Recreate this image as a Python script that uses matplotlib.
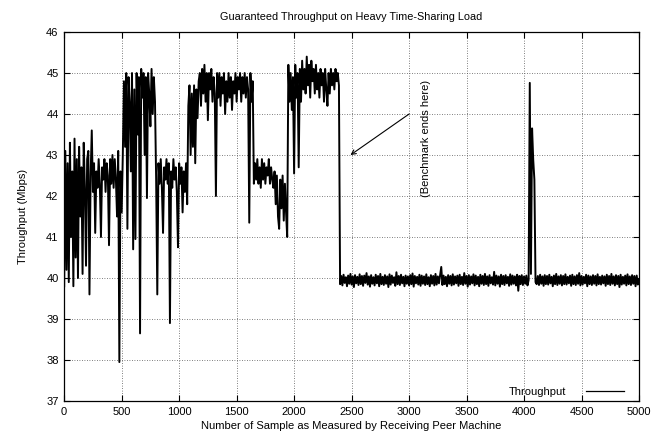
import numpy as np
import matplotlib
matplotlib.use("Agg")
import matplotlib.pyplot as plt

# throughput readings, one value every 10 samples
seg_start_burst = [39.8, 43.1, 40.2, 42.8, 39.9, 43.3, 41.0, 42.6, 39.8, 43.4,
                   40.5, 42.9, 40.0, 43.2, 41.5, 42.7, 40.1, 43.3, 42.2, 40.3,
                   42.9, 43.1, 39.6, 42.5, 43.6]
seg_low_1 = [42.1, 42.8, 41.1, 42.6, 42.2, 42.9, 42.3, 41.0, 42.7, 42.4,
             42.9, 42.1, 42.8, 42.5, 40.8, 42.9, 42.3, 43.0, 42.2, 42.9,
             42.4, 41.5, 43.1, 37.95, 42.6, 41.6]
seg_high_1 = [43.0, 44.8, 43.2, 45.0, 41.2, 44.9, 44.3, 42.6, 45.0, 40.7,
              44.6, 40.95, 45.0, 43.5, 44.9, 38.65, 45.1, 44.4, 45.0, 43.0,
              44.9, 41.95, 45.0, 44.5, 43.7, 45.1, 44.0, 44.9, 44.3]
seg_low_2 = [42.4, 39.6, 42.8, 42.3, 42.9, 42.2, 41.1, 42.7, 42.4, 42.9,
             42.3, 42.8, 38.9, 42.6, 42.2, 42.9, 42.4, 42.7, 42.1, 40.75,
             42.8, 42.3, 42.7, 41.6, 42.6, 42.1, 42.8, 41.8]
seg_high_2 = [44.2, 44.7, 43.0, 44.5, 43.2, 44.7, 42.8, 44.6, 43.9, 44.8,
              45.0, 44.2, 45.1, 44.5, 45.2, 44.3, 45.0, 43.85, 45.0, 44.6,
              45.1, 44.3, 44.9, 44.5, 42.0, 45.0, 44.4, 45.0, 44.2, 44.9,
              44.5, 45.0, 44.0, 44.8, 44.3, 45.0, 44.4, 44.9, 44.1, 44.8,
              44.5, 45.0, 44.3, 44.9, 44.6, 45.0, 44.3, 44.9, 44.5, 45.0,
              44.4, 44.9, 44.6, 41.35, 45.0, 44.3, 44.8]
seg_low_3 = [42.3, 42.8, 42.4, 42.9, 42.3, 42.7, 42.2, 42.9, 42.4, 42.8,
             42.3, 42.7, 42.5, 42.9, 42.3, 42.7, 42.4]
seg_low_4 = [42.2, 42.6, 41.8, 42.5, 41.5, 41.2, 42.4, 41.7, 42.5, 41.4,
             42.3, 41.6, 41.0]
seg_high_3 = [45.2, 44.3, 45.0, 44.1, 44.9, 42.55, 45.2, 44.4, 45.0, 42.7,
              45.1, 44.3, 45.3, 44.6, 45.1, 44.5, 45.4, 44.7, 45.2, 44.4,
              45.3, 44.8, 45.1, 44.5, 45.2, 44.6, 45.0, 44.4, 45.1, 44.7,
              45.0, 44.3, 45.1, 44.6, 44.2, 45.0, 44.5, 45.1, 44.7, 45.0,
              44.6, 45.1, 44.8, 45.0, 44.7]
seg_after = [
    39.85, 40.05, 39.82, 40.08, 39.88, 40.02, 39.80, 40.06, 39.86, 40.10, 39.84, 40.04, 39.78, 40.07, 39.87, 40.03, 39.83, 40.09, 39.85, 40.05,
    39.81, 40.06, 39.88, 40.12, 39.84, 40.04, 39.79, 40.07, 39.86, 40.02, 39.82, 40.08, 39.87, 40.05, 39.80, 40.10, 39.85, 40.03, 39.83, 40.07,
    39.86, 40.04, 39.78, 40.09, 39.84, 40.06, 39.88, 40.02, 39.81, 40.14, 39.85, 40.05, 39.83, 40.08, 39.87, 40.03, 39.80, 40.06, 39.86, 40.04,
    39.82, 40.07, 39.85, 40.11, 39.79, 40.05, 39.87, 40.03, 39.84, 40.08, 39.81, 40.06, 39.86, 40.04, 39.83, 40.09, 39.85, 40.02, 39.80, 40.07,
    39.86, 40.05, 39.82, 40.10, 39.84, 40.04, 39.87, 40.08, 40.27, 39.83, 40.06, 39.85, 40.03, 39.80, 40.07, 39.86, 40.05, 39.82, 40.09, 39.84,
    40.04, 39.87, 40.06, 39.81, 40.08, 39.85, 40.03, 39.83, 40.12, 39.86, 40.05, 39.79, 40.07, 39.84, 40.04, 39.87, 40.09, 39.82, 40.06, 39.85,
    40.03, 39.80, 40.08, 39.86, 40.05, 39.83, 40.10, 39.85, 40.04, 39.81, 40.07, 39.87, 40.02, 39.84, 40.15, 39.82, 40.06, 39.86, 40.04, 39.79,
    40.08, 39.85, 40.05, 39.83, 40.07, 39.87, 40.03, 39.81, 40.09, 39.84, 40.06, 39.86, 40.04, 39.82, 40.08, 39.69, 40.05, 39.85, 40.07, 39.83,
    40.04, 39.86, 40.06, 39.82, 39.95, 44.76, 40.10, 43.65, 42.88, 42.40, 39.90, 39.85, 40.05, 39.83, 40.08, 39.86, 40.04, 39.81, 40.07, 39.85,
    40.05, 39.84, 40.08, 39.87, 40.03, 39.80, 40.06, 39.85, 40.10, 39.83, 40.04, 39.86, 40.07, 39.82, 40.05, 39.85, 40.09, 39.84, 40.03, 39.87,
    40.06, 39.81, 40.08, 39.85, 40.04, 39.83, 40.07, 39.86, 40.12, 39.82, 40.05, 39.84, 40.03, 39.87, 40.08, 39.80, 40.06, 39.85, 40.04, 39.83,
    40.07, 39.86, 40.05, 39.82, 40.09, 39.85, 40.03, 39.84, 40.06, 39.87, 40.04, 39.81, 40.08, 39.85, 40.05, 39.83, 40.10, 39.86, 40.04, 39.82,
    40.07, 39.85, 40.05, 39.78, 40.08, 39.84, 40.03, 39.86, 40.06, 39.82, 40.09, 39.85, 40.04, 39.83, 40.07, 39.86, 40.05, 39.80, 40.06, 39.84,
    39.95]

sample_step = 10
x_ticks = list(range(0, 5001, 500))
y_ticks = list(range(37, 47))

throughput = np.array(seg_start_burst + seg_low_1 + seg_high_1 + seg_low_2 + seg_high_2
                      + seg_low_3 + seg_low_4 + seg_high_3 + seg_after)
samples = np.arange(len(throughput)) * sample_step

plt.rcParams['font.family'] = ['Liberation Sans', 'DejaVu Sans']
plt.rcParams['font.size'] = 8

fig = plt.figure(figsize=(6.65, 4.40), dpi=100)
ax = fig.add_axes([0.0965, 0.0886, 0.8644, 0.8386])

ax.plot(samples, throughput, color='black', lw=1.4, label='Throughput')

ax.set_xlim(0, 5000)
ax.set_ylim(37, 46)
ax.set_xticks(x_ticks)
ax.set_yticks(y_ticks)
ax.grid(True, color='#555555', lw=0.6, linestyle=(0, (1, 2)))
ax.tick_params(direction='in', top=True, right=True, length=4, width=0.8, pad=4)
for s in ax.spines.values():
    s.set_linewidth(0.9)

ax.set_title('Guaranteed Throughput on Heavy Time-Sharing Load', pad=9, fontsize=7.8)
ax.set_xlabel('Number of Sample as Measured by Receiving Peer Machine', labelpad=3)
ax.set_ylabel('Throughput (Mbps)', labelpad=13)

ax.annotate('', xy=(2490, 43.0), xytext=(3000, 44.0),
            arrowprops=dict(arrowstyle='->', color='black', lw=0.8, shrinkA=0, shrinkB=0))
ax.text(3150, 41.98, '(Benchmark ends here)', rotation=90, ha='center', va='bottom')

leg = ax.legend(loc='lower right', bbox_to_anchor=(0.974, 0.012), frameon=False,
                markerfirst=False, handlelength=3.4, handletextpad=1.8,
                borderpad=0, borderaxespad=0)
for h in leg.get_lines():
    h.set_linewidth(0.9)

fig.savefig('out.png', dpi=100)
